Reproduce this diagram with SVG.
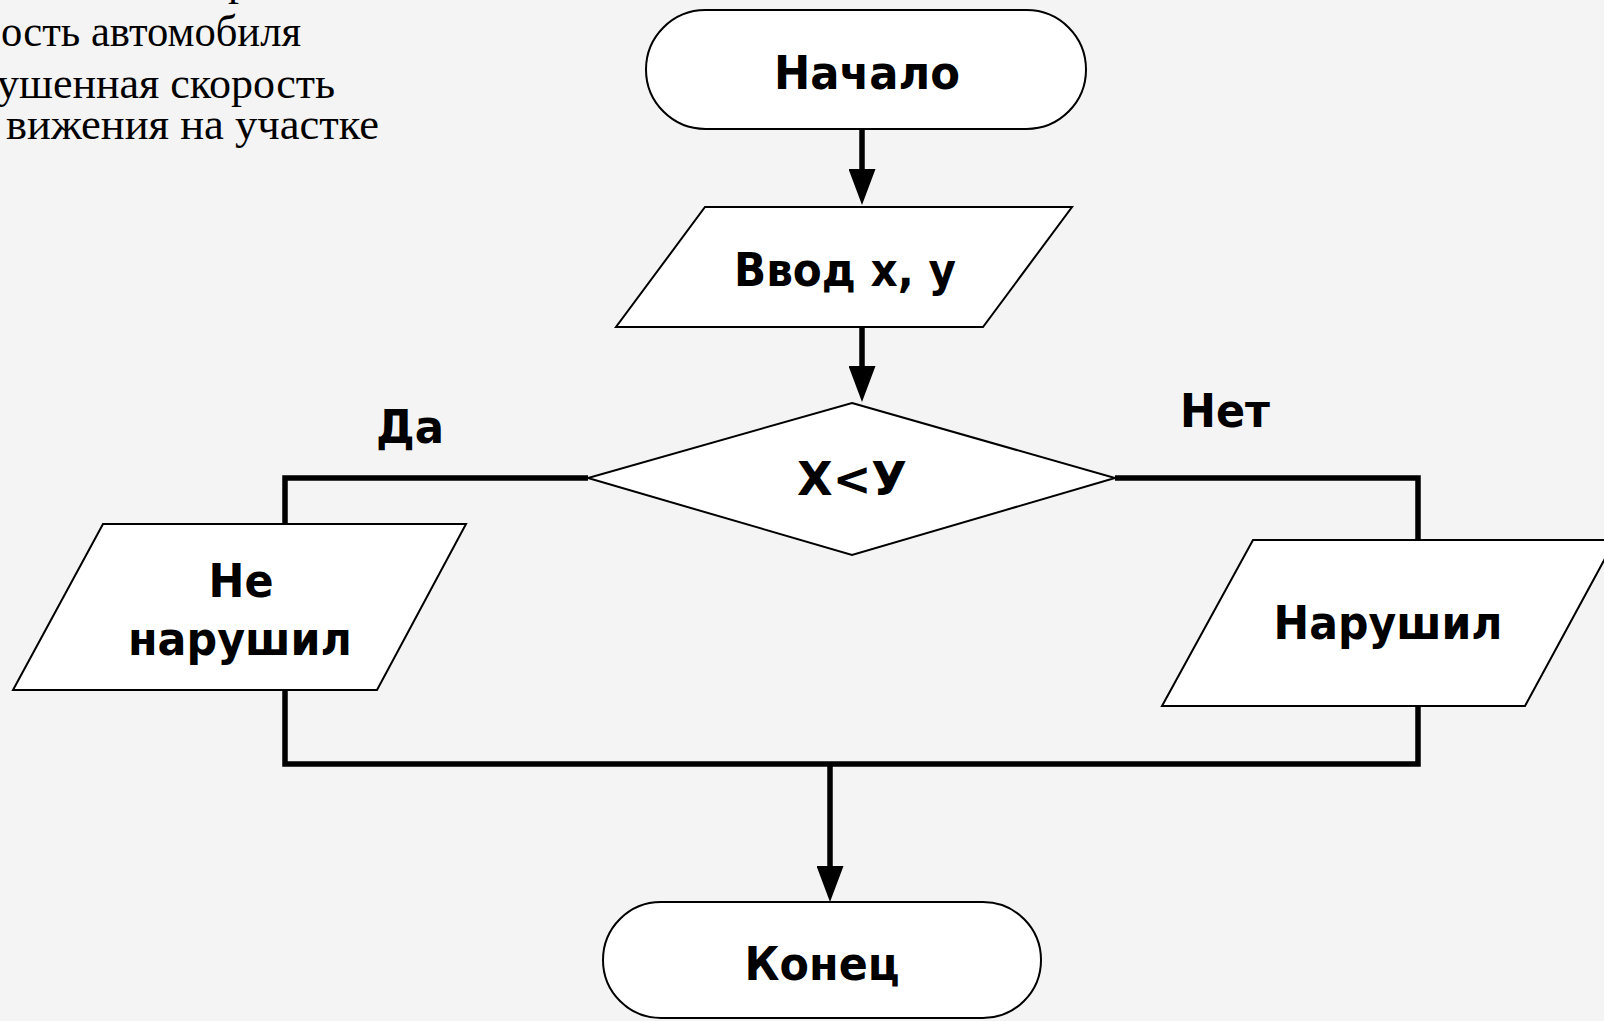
<svg xmlns="http://www.w3.org/2000/svg" width="1604" height="1021" viewBox="0 0 1604 1021">
  <style>
    .bg { fill: #f4f4f4; }
    .shape { fill: #ffffff; stroke: #000000; stroke-width: 2; stroke-linejoin: miter; }
    .conn { fill: none; stroke: #000000; stroke-width: 5.5; stroke-linejoin: miter; stroke-linecap: butt; }
    .lbl { font-family: "DejaVu Sans", Verdana, sans-serif; font-weight: bold; font-size: 47px; fill: #000000; text-anchor: middle; }
    .note { font-family: "Liberation Serif", "Times New Roman", serif; font-size: 44px; fill: #000000; }
  </style>
  <defs>
    <marker id="arrow" viewBox="0 0 36 27" refX="16" refY="13.5" markerWidth="36" markerHeight="27" markerUnits="userSpaceOnUse" orient="auto">
      <path d="M0,0 L36,13.5 L0,27 Z" fill="#000000"/>
    </marker>
  </defs>

  <rect class="bg" x="0" y="0" width="1604" height="1021"/>

  <!-- notes in the upper-left corner, partly cut by the page edge -->
  <g id="notes">
    <text class="note" x="228" y="-5">р</text>
    <text class="note" x="1" y="46" textLength="300" lengthAdjust="spacingAndGlyphs">ость автомобиля</text>
    <text class="note" x="-3" y="98" textLength="338" lengthAdjust="spacingAndGlyphs">ушенная скорость</text>
    <text class="note" x="6" y="139" textLength="373" lengthAdjust="spacingAndGlyphs">вижения на участке</text>
  </g>

  <!-- connectors -->
  <g id="connectors">
    <line class="conn" x1="862" y1="129" x2="862" y2="185" marker-end="url(#arrow)"/>
    <line class="conn" x1="862" y1="327" x2="862" y2="382" marker-end="url(#arrow)"/>
    <polyline class="conn" points="588,478 285,478 285,524"/>
    <polyline class="conn" points="1115,478 1418,478 1418,540"/>
    <polyline class="conn" points="285,690 285,764 1418,764 1418,706"/>
    <line class="conn" x1="830" y1="764" x2="830" y2="882" marker-end="url(#arrow)"/>
    <text class="lbl" x="410" y="443" textLength="68" lengthAdjust="spacingAndGlyphs">Да</text>
    <text class="lbl" x="1225" y="427" textLength="90" lengthAdjust="spacingAndGlyphs">Нет</text>
  </g>

  <g id="start">
    <rect class="shape" x="646" y="10" width="440" height="119" rx="59.5" ry="59.5"/>
    <text class="lbl" x="867" y="89" textLength="186" lengthAdjust="spacingAndGlyphs">Начало</text>
  </g>

  <g id="input">
    <polygon class="shape" points="705,207 1072,207 983,327 616,327"/>
    <text class="lbl" x="845" y="286" textLength="222" lengthAdjust="spacingAndGlyphs">Ввод x, у</text>
  </g>

  <g id="decision">
    <polygon class="shape" points="852,403 1115,478 852,555 588,478"/>
    <text class="lbl" x="852" y="495" textLength="110" lengthAdjust="spacingAndGlyphs">Х&lt;У</text>
  </g>

  <g id="not-violated">
    <polygon class="shape" points="103,524 466,524 377,690 13,690"/>
    <text class="lbl" x="241" y="597" textLength="65" lengthAdjust="spacingAndGlyphs">Не</text>
    <text class="lbl" x="240" y="655" textLength="224" lengthAdjust="spacingAndGlyphs">нарушил</text>
  </g>

  <g id="violated">
    <polygon class="shape" points="1253,540 1615,540 1525,706 1162,706"/>
    <text class="lbl" x="1388" y="639" textLength="229" lengthAdjust="spacingAndGlyphs">Нарушил</text>
  </g>

  <g id="end">
    <rect class="shape" x="603" y="902" width="438" height="116" rx="58" ry="58"/>
    <text class="lbl" x="822" y="980" textLength="155" lengthAdjust="spacingAndGlyphs">Конец</text>
  </g>
</svg>
